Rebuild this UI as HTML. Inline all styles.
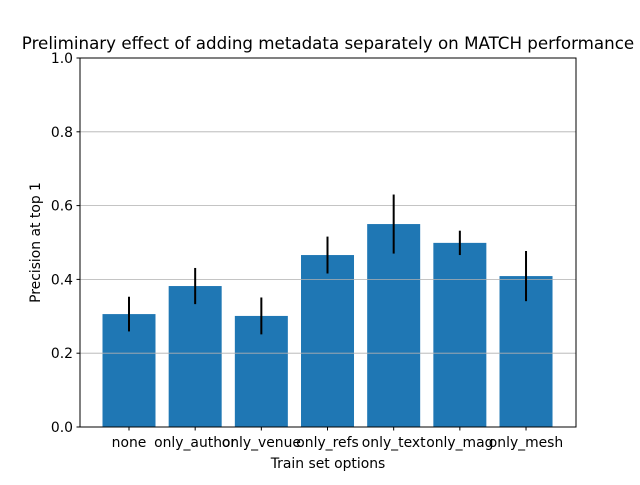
<!DOCTYPE html>
<html><head><meta charset="utf-8"><style>
body{margin:0;background:#fff}
svg text{font-family:"DejaVu Sans","Liberation Sans",sans-serif;fill:#000}
</style></head><body>
<svg id="chart" width="640" height="480" xmlns="http://www.w3.org/2000/svg">
<rect width="640" height="480" fill="#fff"/>
<text x="328" y="49" font-size="16.7" text-anchor="middle">Preliminary effect of adding metadata separately on MATCH performance</text>
<g id="bars"></g><g id="grid"></g><g id="errs"></g><g id="yticks"></g><g id="xticks"></g>
<rect x="80" y="58" width="496" height="369" fill="none" stroke="#000" stroke-width="1"/>
<text x="328" y="468" font-size="13.9" text-anchor="middle">Train set options</text>
<text transform="translate(40,242.5) rotate(-90)" font-size="13.9" text-anchor="middle">Precision at top 1</text>
</svg>
<script>
const categories=["none","only_author","only_venue","only_refs","only_text","only_mag","only_mesh"];
const values=[0.306,0.382,0.301,0.466,0.55,0.499,0.409];
const errors=[0.047,0.049,0.05,0.05,0.08,0.033,0.068];
const yTicks=[0,0.2,0.4,0.6,0.8,1.0];
const yTickLabels=["0.0","0.2","0.4","0.6","0.8","1.0"];
const NS="http://www.w3.org/2000/svg";
const x=i=>129+i*66.17;
const y=v=>427-v*369;
function mk(t,a,p){const e=document.createElementNS(NS,t);for(const k in a)e.setAttribute(k,a[k]);document.getElementById(p).appendChild(e);return e;}
categories.forEach((c,i)=>{
 const b=mk("rect",{x:x(i)-26.5,y:y(values[i]),width:53,height:y(0)-y(values[i]),fill:"#1f77b4"},"bars");
 
 
 const e=mk("line",{x1:x(i),x2:x(i),y1:y(values[i]-errors[i]),y2:y(values[i]+errors[i]),stroke:"#000","stroke-width":2},"errs");
 
 
 mk("line",{x1:x(i),x2:x(i),y1:427,y2:430.5,stroke:"#000"},"xticks");
 const t=mk("text",{x:x(i),y:447,"font-size":13.9,"text-anchor":"middle"},"xticks");
 t.textContent=c;
 
 
});
yTicks.forEach((v,i)=>{
 const g=mk("line",{x1:80,x2:576,y1:y(v),y2:y(v),stroke:"#b0b0b0","stroke-width":0.8},"grid");
 
 
 mk("line",{x1:76.5,x2:80,y1:y(v),y2:y(v),stroke:"#000"},"yticks");
 const t=mk("text",{x:73,y:y(v)+5,"font-size":13.9,"text-anchor":"end"},"yticks");
 t.textContent=yTickLabels[i];
 
 
});
</script>
</body></html>
